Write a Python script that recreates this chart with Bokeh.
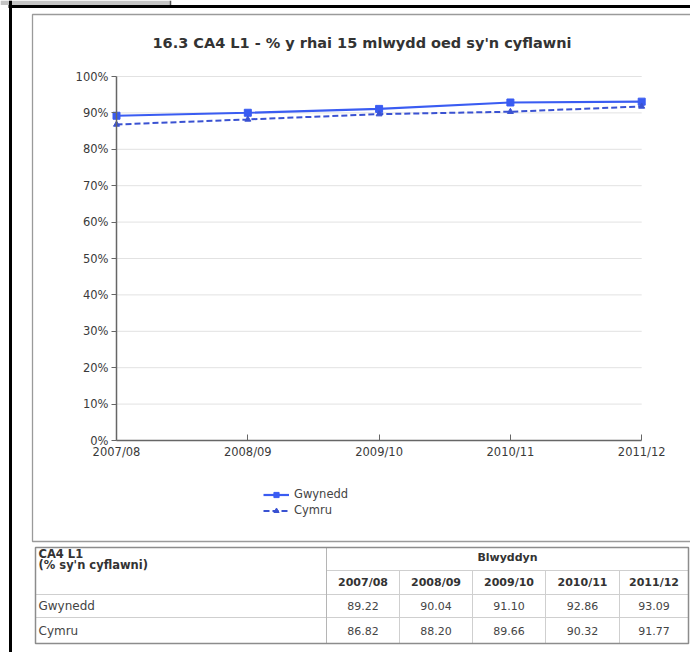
from bokeh.plotting import figure
from bokeh.models import (Range1d, LinearAxis, FixedTicker, PrintfTickFormatter,
                          Legend, LegendItem)
from bokeh.core.properties import value
from bokeh.embed import file_html
from bokeh.resources import INLINE

# ---- data -----------------------------------------------------------------
years = ["2007/08", "2008/09", "2009/10", "2010/11", "2011/12"]
gwynedd = [89.22, 90.04, 91.10, 92.86, 93.09]
cymru = [86.82, 88.20, 89.66, 90.32, 91.77]
y_ticks = [0, 10, 20, 30, 40, 50, 60, 70, 80, 90, 100]

title_text = "16.3  CA4 L1 - % y rhai 15 mlwydd oed sy'n cyflawni"
table_head = ["CA4 L1", "(% sy'n cyflawni)"]
table_group = "Blwyddyn"
row_names = ["Gwynedd", "Cymru"]

# ---- page geometry (pixels) -------------------------------------------------
W, H = 690, 652
AX_X0, AX_STEP = 116.0, 131.3      # pixel x of first category, spacing
AX_Y0, AX_PER = 440.0, 3.64        # pixel y of 0 %, pixels per 1 %

FONT_NAME = "DejaVu Sans"
FONT = value(FONT_NAME)
BLUE1 = "#3a5cf2"
BLUE2 = "#3a52d2"
TXT = "#3a3a3a"

xs = list(range(len(years)))

p = figure(width=W, height=H, output_backend="svg", toolbar_location=None,
           x_range=Range1d(-AX_X0 / AX_STEP, (W - AX_X0) / AX_STEP),
           y_range=Range1d((AX_Y0 - H) / AX_PER, AX_Y0 / AX_PER),
           x_axis_type=None, y_axis_type=None, min_border=0,
           outline_line_color=None, background_fill_color="white",
           border_fill_color="white")
p.extra_x_ranges = {"px": Range1d(0, W)}
p.extra_y_ranges = {"px": Range1d(H, 0)}
PX = dict(x_range_name="px", y_range_name="px")

# ---- page furniture ---------------------------------------------------------
p.quad(left=[0], right=[170], top=[0], bottom=[4.5], fill_color="#c4c4c4",
       line_color=None, **PX)
p.segment(x0=[170], y0=[0], x1=[170], y1=[4.5], line_color="#555555",
          line_width=1.5, **PX)
p.segment(x0=[8], y0=[6], x1=[W], y1=[6], line_color="black", line_width=3, **PX)
p.segment(x0=[10], y0=[0], x1=[10], y1=[H], line_color="black", line_width=3, **PX)

# chart frame
p.quad(left=[32], right=[W + 10], top=[14], bottom=[541], fill_color=None,
       line_color="#9a9a9a", line_width=1.3, **PX)

# title
p.text(x=[364], y=[42], text=[title_text], text_font=FONT, text_font_size="14.5px",
       text_font_style="bold", text_color="#333333", text_align="center",
       text_baseline="middle", **PX)

# ---- grid (data coords) -----------------------------------------------------
grid_y = [t for t in y_ticks if t > 0]
p.segment(x0=[xs[0]] * len(grid_y), y0=grid_y, x1=[xs[-1]] * len(grid_y), y1=grid_y,
          line_color="#e2e2e2", line_width=1)

# ---- series -----------------------------------------------------------------
l1 = p.line(xs, gwynedd, line_color=BLUE1, line_width=2.2)
m1 = p.scatter(xs, gwynedd, marker="square", size=7, fill_color=BLUE1, line_color=BLUE1)
l2 = p.line(xs, cymru, line_color=BLUE2, line_width=2, line_dash="6 3")
m2 = p.scatter(xs, cymru, marker="triangle", size=6, fill_color=BLUE2, line_color=BLUE2)

# ---- axes -------------------------------------------------------------------
yaxis = LinearAxis(fixed_location=0, bounds=(0, 100),
                   ticker=FixedTicker(ticks=y_ticks),
                   formatter=PrintfTickFormatter(format="%d%%"),
                   axis_line_color="#666666", axis_line_width=1.5,
                   major_tick_line_color="#666666", major_tick_out=5, major_tick_in=0,
                   minor_tick_out=0, minor_tick_in=0, major_label_standoff=3,
                   major_label_text_font=FONT_NAME, major_label_text_font_size="11.5px",
                   major_label_text_color=TXT)
p.add_layout(yaxis, "left")

xaxis = LinearAxis(fixed_location=0, bounds=(xs[0], xs[-1]),
                   ticker=FixedTicker(ticks=xs),
                   major_label_overrides={i: y for i, y in zip(xs, years)},
                   axis_line_color="#666666", axis_line_width=1.5,
                   major_tick_line_color="#666666", major_tick_out=0, major_tick_in=6,
                   minor_tick_out=0, minor_tick_in=0, major_label_standoff=4,
                   major_label_text_font=FONT_NAME, major_label_text_font_size="11.5px",
                   major_label_text_color=TXT)
p.add_layout(xaxis, "below")

# ---- legend -----------------------------------------------------------------
legend = Legend(items=[LegendItem(label=row_names[0], renderers=[l1, m1]),
                       LegendItem(label=row_names[1], renderers=[l2, m2])],
                location=(263, H - 517), glyph_width=26, glyph_height=13,
                label_height=13, spacing=2, padding=0, margin=0, label_standoff=5,
                border_line_color=None, background_fill_alpha=0,
                label_text_font=FONT_NAME, label_text_font_size="11.5px",
                label_text_color="#444444")
p.add_layout(legend)

# ---- data table -------------------------------------------------------------
T_L, T_R = 35, 688
T_TOP, T_GRP, T_YR, T_ROW, T_BOT = 547, 570, 594, 617, 643
col_edges = [326, 399, 472, 545, 619, T_R]
col_mid = [(a + b) / 2 for a, b in zip(col_edges[:-1], col_edges[1:])]

inner_x0 = [col_edges[0], col_edges[0], T_L, T_L] + col_edges[1:-1]
inner_x1 = [T_R, T_R, T_R, T_R] + col_edges[1:-1]
inner_y0 = [T_GRP, T_YR, T_YR, T_ROW] + [T_GRP] * 4
inner_y1 = [T_GRP, T_YR, T_YR, T_ROW] + [T_BOT] * 4
p.segment(x0=inner_x0, y0=inner_y0, x1=inner_x1, y1=inner_y1,
          line_color="#cfcfcf", line_width=1, **PX)
p.segment(x0=[col_edges[0]], y0=[T_TOP], x1=[col_edges[0]], y1=[T_BOT],
          line_color="#b5b5b5", line_width=1, **PX)
p.quad(left=[T_L], right=[T_R], top=[T_TOP], bottom=[T_BOT], fill_color=None,
       line_color="#8c8c8c", line_width=1.5, **PX)

TSIZE = "11px"
p.text(x=[38, 38], y=[553, 564], text=table_head, text_font=FONT,
       text_font_size="11.5px", text_font_style="bold", text_color="#333333",
       text_baseline="middle", **PX)
p.text(x=[(col_edges[0] + T_R) / 2], y=[557], text=[table_group], text_font=FONT,
       text_font_size=TSIZE, text_font_style="bold", text_color="#333333",
       text_align="center", text_baseline="middle", **PX)
p.text(x=col_mid, y=[582] * len(years), text=years, text_font=FONT,
       text_font_size=TSIZE, text_font_style="bold", text_color="#333333",
       text_align="center", text_baseline="middle", **PX)
p.text(x=[38, 38], y=[605, 630], text=row_names, text_font=FONT,
       text_font_size="12px", text_color="#444444", text_baseline="middle", **PX)
p.text(x=col_mid, y=[605] * len(years), text=[f"{v:.2f}" for v in gwynedd],
       text_font=FONT, text_font_size=TSIZE, text_color="#444444",
       text_align="center", text_baseline="middle", **PX)
p.text(x=col_mid, y=[630] * len(years), text=[f"{v:.2f}" for v in cymru],
       text_font=FONT, text_font_size=TSIZE, text_color="#444444",
       text_align="center", text_baseline="middle", **PX)

open("out.html", "w").write(file_html(p, INLINE))
